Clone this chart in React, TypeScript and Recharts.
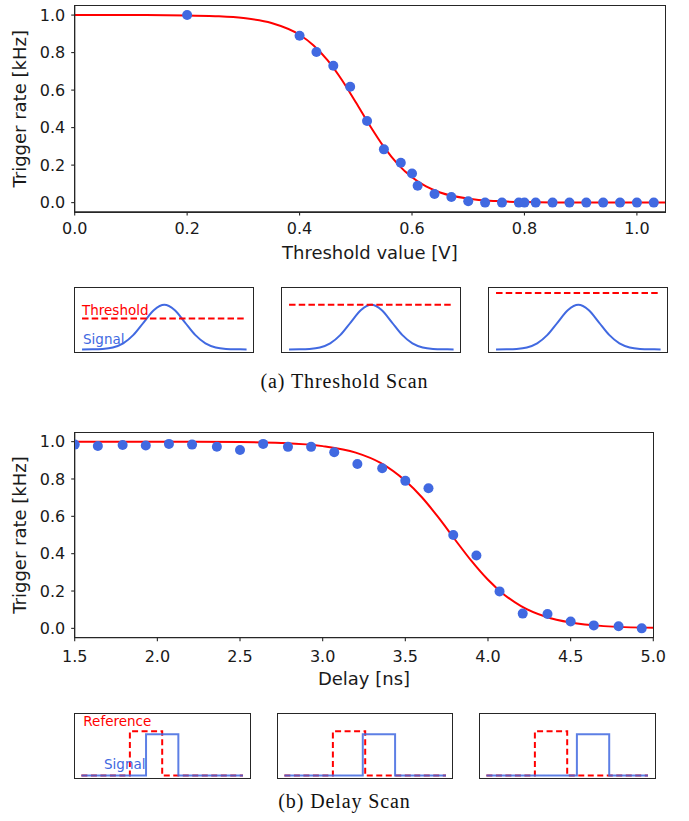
import React from 'react';
import { ComposedChart, LineChart, Line, Scatter, XAxis, YAxis, Label } from 'recharts';

const RED = '#ff0000';
const BLUE = '#4169e1';
const INK = '#262626';
const SANS = '"DejaVu Sans", Verdana, sans-serif';
const SERIF = '"Liberation Serif", "Times New Roman", serif';

// (a) threshold scan: measured points and fitted curve
const thrValue = [0.2, 0.4, 0.43, 0.46, 0.49, 0.52, 0.55, 0.58, 0.6, 0.61, 0.64, 0.67, 0.7, 0.73, 0.76, 0.79, 0.8, 0.82, 0.85, 0.88, 0.91, 0.94, 0.97, 1.0, 1.03];
const thrRate = [1.0, 0.89, 0.803, 0.73, 0.618, 0.435, 0.284, 0.213, 0.155, 0.09, 0.046, 0.03, 0.007, 0, 0, 0, 0, 0, 0, 0, 0, 0, 0, 0, 0];
const thrFitValue = [0, 0.1, 0.2, 0.25, 0.3, 0.35, 0.4, 0.425, 0.45, 0.475, 0.5, 0.525, 0.55, 0.575, 0.6, 0.625, 0.65, 0.7, 0.75, 0.8, 0.9, 1.05];
const thrFitRate = [1.0, 1.0, 0.998, 0.994, 0.984, 0.958, 0.895, 0.838, 0.758, 0.655, 0.535, 0.411, 0.297, 0.204, 0.135, 0.086, 0.054, 0.021, 0.008, 0.003, 0.0, 0.0];
const thrTicks = [0, 0.2, 0.4, 0.6, 0.8, 1.0];

// (b) delay scan
const delayNs = [1.5, 1.64, 1.79, 1.93, 2.07, 2.21, 2.36, 2.5, 2.64, 2.79, 2.93, 3.07, 3.21, 3.36, 3.5, 3.64, 3.79, 3.93, 4.07, 4.21, 4.36, 4.5, 4.64, 4.79, 4.93];
const delayRate = [0.984, 0.977, 0.982, 0.979, 0.988, 0.984, 0.973, 0.955, 0.988, 0.972, 0.972, 0.943, 0.88, 0.857, 0.79, 0.75, 0.5, 0.39, 0.198, 0.079, 0.077, 0.037, 0.016, 0.011, 0.0];
const delayFitNs = [1.5, 2.0, 2.5, 2.75, 3.0, 3.2, 3.35, 3.5, 3.6, 3.7, 3.8, 3.9, 4.0, 4.1, 4.2, 4.35, 4.5, 4.7, 5.0];
const delayFitRate = [1.0, 1.0, 0.998, 0.993, 0.976, 0.941, 0.886, 0.79, 0.702, 0.594, 0.476, 0.361, 0.26, 0.179, 0.119, 0.062, 0.031, 0.012, 0.003];
const delayTicks = [1.5, 2.0, 2.5, 3.0, 3.5, 4.0, 4.5, 5.0];

const rateTicks = [0, 0.2, 0.4, 0.6, 0.8, 1.0];

// sketches below each plot
const pulseT = [-4, -3.5, -3, -2.5, -2, -1.5, -1, -0.5, 0, 0.5, 1, 1.5, 2, 2.5, 3, 3.5, 4];
const pulseAmp = [0.0003, 0.0022, 0.0111, 0.0439, 0.1353, 0.3247, 0.6065, 0.8825, 1, 0.8825, 0.6065, 0.3247, 0.1353, 0.0439, 0.0111, 0.0022, 0.0003];
const thresholdLevels = [0.694, 1.0, 1.262];

const refT = [0, 3, 3, 5, 5, 10];
const refLevel = [0, 0, 1.073, 1.073, 0, 0];
const signalT = [
  [0, 4, 4, 6, 6, 10],
  [0, 4.85, 4.85, 6.85, 6.85, 10],
  [0, 5.6, 5.6, 7.6, 7.6, 10],
];
const signalLevel = [0, 0, 1, 1, 0, 0];

const zip = (xs: number[], ys: number[]) => xs.map((x, i) => ({ x, y: ys[i] }));
const fmt = (v: number) => v.toFixed(1);

const tickStyle = { fill: '#1a1a1a', fontSize: 16, fontFamily: SANS };
const labelStyle = { fill: '#1a1a1a', fontSize: 18, fontFamily: SANS };
const FRAME = 1.3;

interface ScanProps {
  top: number;
  height: number;
  plotTop: number;
  plotBottom: number;
  plotRight: number;
  xDomain: [number, number];
  xTicks: number[];
  points: { x: number; y: number }[];
  fit: { x: number; y: number }[];
  xLabel: string;
  xLabelBaseline: number;
  xTickGap: number;
}

function ScanPlot(p: ScanProps) {
  const plotLeft = 74.7;
  const midY = (p.plotTop + p.plotBottom) / 2;
  return (
    <>
      <div style={{ position: 'absolute', left: 0, top: p.top }}>
        <ComposedChart
          width={689}
          height={p.height}
          margin={{ top: p.plotTop, right: 689 - p.plotRight, bottom: 0, left: 0 }}
        >
          <XAxis
            dataKey="x"
            type="number"
            domain={p.xDomain}
            ticks={p.xTicks}
            interval={0}
            allowDataOverflow
            height={p.height - p.plotBottom}
            tickSize={3.5}
            tickMargin={p.xTickGap}
            tickFormatter={fmt}
            tick={tickStyle}
            axisLine={{ stroke: INK, strokeWidth: FRAME }}
            tickLine={{ stroke: INK, strokeWidth: 1.1 }}
          >
            <Label
              value={p.xLabel}
              content={() => (
                <text x={(plotLeft + p.plotRight) / 2} y={p.xLabelBaseline} textAnchor="middle" style={labelStyle}>
                  {p.xLabel}
                </text>
              )}
            />
          </XAxis>
          <YAxis
            type="number"
            domain={[-0.05, 1.05]}
            ticks={rateTicks}
            interval={0}
            allowDataOverflow
            width={plotLeft}
            tickSize={3.5}
            tickMargin={6}
            tickFormatter={fmt}
            tick={tickStyle}
            axisLine={{ stroke: INK, strokeWidth: FRAME }}
            tickLine={{ stroke: INK, strokeWidth: 1.1 }}
          >
            <Label
              value="Trigger rate [kHz]"
              content={() => (
                <text x={25.8} y={midY} transform={`rotate(-90 25.8 ${midY})`} textAnchor="middle" style={labelStyle}>
                  Trigger rate [kHz]
                </text>
              )}
            />
          </YAxis>
          <Line data={p.fit} dataKey="y" type="monotone" stroke={RED} strokeWidth={2} dot={false} isAnimationActive={false} />
          <Scatter
            data={p.points}
            dataKey="y"
            isAnimationActive={false}
            shape={(s: any) => <circle cx={s.cx} cy={s.cy} r={5} fill={BLUE} />}
          />
        </ComposedChart>
      </div>
      {/* closing frame (top and right spines) */}
      <div
        style={{
          position: 'absolute',
          left: plotLeft - FRAME / 2,
          top: p.top + p.plotTop - FRAME / 2,
          width: p.plotRight - plotLeft + FRAME,
          height: p.plotBottom - p.plotTop + FRAME,
          border: `${FRAME}px solid ${INK}`,
          boxSizing: 'border-box',
          pointerEvents: 'none',
        }}
      />
    </>
  );
}

interface SketchLine {
  data: { x: number; y: number }[];
  stroke: string;
  dash?: string;
  opacity?: number;
}

function Sketch({ left, top, w, h, xDomain, yDomain, lines }: { left: number; top: number; w: number; h: number; xDomain: [number, number]; yDomain: [number, number]; lines: SketchLine[] }) {
  return (
    <>
      <div style={{ position: 'absolute', left, top }}>
        <LineChart width={w} height={h} margin={{ top: 0, right: 0, bottom: 0, left: 0 }}>
          <XAxis dataKey="x" type="number" domain={xDomain} allowDataOverflow hide />
          <YAxis type="number" domain={yDomain} allowDataOverflow hide />
          {lines.map((l, i) => (
            <Line
              key={i}
              data={l.data}
              dataKey="y"
              type={l.dash ? 'linear' : 'monotone'}
              stroke={l.stroke}
              strokeWidth={2}
              strokeDasharray={l.dash}
              strokeOpacity={l.opacity ?? 1}
              dot={false}
              isAnimationActive={false}
            />
          ))}
        </LineChart>
      </div>
      <div style={{ position: 'absolute', left, top, width: w, height: h, border: `${FRAME}px solid ${INK}`, boxSizing: 'border-box' }} />
    </>
  );
}

function Note({ x, baseline, color, children }: { x: number; baseline: number; color: string; children: React.ReactNode }) {
  const fs = 13.5;
  return (
    <span style={{ position: 'absolute', left: x, top: baseline - 0.846 * fs, fontSize: fs, lineHeight: 1, fontFamily: SANS, color, whiteSpace: 'nowrap' }}>
      {children}
    </span>
  );
}

const captionStyle: React.CSSProperties = {
  position: 'absolute',
  left: 0,
  width: 689,
  textAlign: 'center',
  fontFamily: SERIF,
  fontSize: 20,
  lineHeight: 1,
  letterSpacing: 0.9,
  color: '#111',
};

export default function App() {
  const gauss = zip(pulseT, pulseAmp);
  const topBoxes = [74.3, 280.9, 487.9];
  const bottomBoxes = [74.3, 276.7, 479.4];
  return (
    <div style={{ position: 'absolute', left: 0, top: 0, width: 689, height: 821, background: '#fff', overflow: 'hidden' }}>
      <ScanPlot
        top={0}
        height={270}
        plotTop={5.7}
        plotBottom={212}
        plotRight={665}
        xDomain={[0, 1.05]}
        xTicks={thrTicks}
        points={zip(thrValue, thrRate)}
        fit={zip(thrFitValue, thrFitRate)}
        xLabel="Threshold value [V]"
        xLabelBaseline={259}
        xTickGap={7.5}
      />
      {topBoxes.map((left, i) => (
        <Sketch
          key={i}
          left={left}
          top={287.3}
          w={180}
          h={65.4}
          xDomain={[-4.39, 4.36]}
          yDomain={[-0.067, 1.396]}
          lines={[
            { data: gauss, stroke: BLUE },
            { data: zip([-4, 4], [thresholdLevels[i], thresholdLevels[i]]), stroke: RED, dash: '6.5 3.2' },
          ]}
        />
      ))}
      <Note x={82} baseline={315} color={RED}>Threshold</Note>
      <Note x={83} baseline={344} color={BLUE}>Signal</Note>
      <div style={{ ...captionStyle, top: 371 }}>(a) Threshold Scan</div>

      <ScanPlot
        top={420}
        height={280}
        plotTop={12.3}
        plotBottom={217.7}
        plotRight={653.3}
        xDomain={[1.5, 5.0]}
        xTicks={delayTicks}
        points={zip(delayNs, delayRate)}
        fit={zip(delayFitNs, delayFitRate)}
        xLabel="Delay [ns]"
        xLabelBaseline={265}
        xTickGap={9}
      />
      {bottomBoxes.map((left, i) => (
        <Sketch
          key={i}
          left={left}
          top={712.7}
          w={176.4}
          h={66}
          xDomain={[-0.458, 10.458]}
          yDomain={[-0.082, 1.516]}
          lines={[
            { data: zip(refT, refLevel), stroke: RED, dash: '6 3.5' },
            { data: zip(signalT[i], signalLevel), stroke: BLUE, dash: '1 0', opacity: 0.85 },
          ]}
        />
      ))}
      <Note x={83.3} baseline={726.7} color={RED}>Reference</Note>
      <Note x={104} baseline={769.3} color={BLUE}>Signal</Note>
      <div style={{ ...captionStyle, top: 791 }}>(b) Delay Scan</div>
    </div>
  );
}
